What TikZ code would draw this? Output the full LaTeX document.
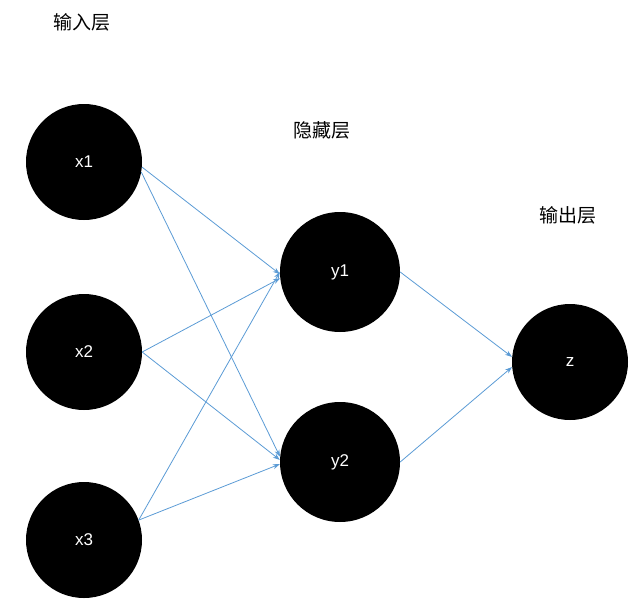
\documentclass[tikz,border=0pt]{standalone}
\usepackage{fontspec}
\usetikzlibrary{arrows.meta}
\setmainfont{Liberation Sans}
\newfontfamily\cjk{Noto Sans CJK SC}
\definecolor{edge}{RGB}{91,155,213}
\begin{document}
\begin{tikzpicture}[x=1pt,y=-1pt,
  neuron/.style={circle,fill=black,minimum size=116pt,inner sep=0pt,text=white,font=\fontsize{17}{20}\selectfont},
  conn/.style={draw=edge,line width=0.8pt,-{Stealth[length=7pt,width=5pt]}},
  lab/.style={font=\cjk\fontsize{19}{22}\selectfont}]
\useasboundingbox (0,0) rectangle (643,616);
\node[neuron] (x1) at (84,162) {x1};
\node[neuron] (x2) at (84,352) {x2};
\node[neuron] (x3) at (84,540) {x3};
\node[neuron,minimum size=120pt] (y1) at (340,272) {y1};
\node[neuron,minimum size=120pt] (y2) at (340,462) {y2};
\node[neuron] (z) at (570,362) {z};
\node[lab] (l1) at (82,22) {输入层};
\node[lab] (l2) at (322,130) {隐藏层};
\node[lab] (l3) at (568,215) {输出层};
\draw[conn] (x1.-5) -- (y1.182);
\draw[conn] (x1.-10) -- (y2.175);
\draw[conn] (x2.0) -- (y1.186);
\draw[conn] (x2.0) -- (y2.178);
\draw[conn] (x3.20) -- (y1.180);
\draw[conn] (x3.20) -- (y2.182);
\draw[conn] (y1.0) -- (z.175);
\draw[conn] (y2.0) -- (z.185);
\end{tikzpicture}
\end{document}
